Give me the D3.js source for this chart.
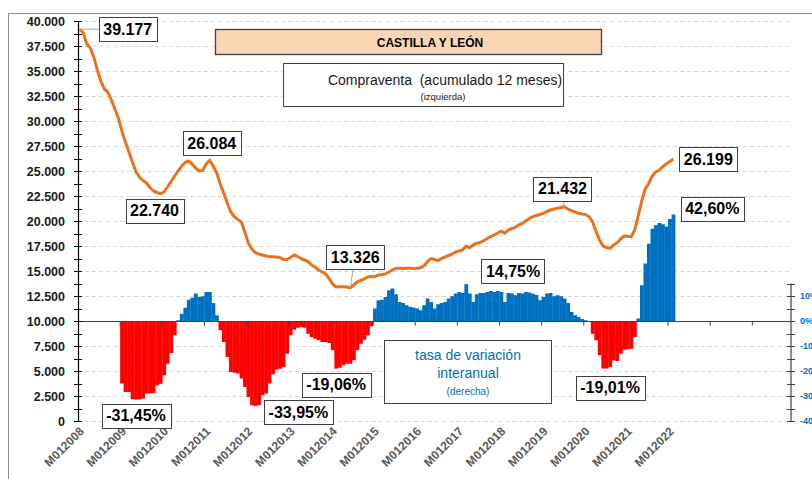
<!DOCTYPE html>
<html>
<head>
<meta charset="utf-8">
<script src="https://cdn.jsdelivr.net/npm/d3@7"></script>
<style>
  body { margin: 0; background: #fff; }
  svg { display: block; font-family: "Liberation Sans", Arial, sans-serif; }
</style>
</head>
<body>
<div id="chart"></div>
<script>
// Compraventa de viviendas, acumulado 12 meses (eje izquierdo), M012008 .. M022022
const compraventa = [
  39177, 38830, 37700, 37300, 36400, 35100, 34000, 33200, 32900, 32100, 31200, 30300,
  29000, 27900, 26900, 25900, 24930, 24400, 24050, 23800, 23350, 23000, 22850, 22740,
  22900, 23400, 23930, 24500, 25000, 25500, 25850, 26000, 25700, 25300, 25000, 25050,
  25700, 26084, 25500, 24800, 23700, 22800, 21800, 20900, 20430, 20150, 19900, 18900,
  17800, 17200, 16830, 16700, 16600, 16500, 16450, 16430, 16400, 16350, 16150, 16150,
  16350, 16600, 16450, 16250, 16100, 15950, 15600, 15400, 15100, 14900, 14700, 14250,
  13700, 13400, 13420, 13430, 13400, 13326, 13600, 13900, 14050, 14200, 14400, 14450,
  14430, 14600, 14650, 14700, 14900, 15100, 15270, 15270, 15250, 15280, 15270, 15260,
  15280, 15330, 15500, 15930, 16250, 16150, 16030, 16250, 16400, 16550, 16700, 16900,
  17000, 17100, 17500, 17330, 17600, 17750, 17850, 18030, 18250, 18430, 18600, 18800,
  19000, 18770, 19100, 19250, 19370, 19600, 19750, 20000, 20250, 20430, 20550, 20650,
  20770, 20950, 21100, 21200, 21270, 21350, 21432, 21200, 21030, 20900, 20770, 20700,
  20650, 20430, 19930, 18930, 18100, 17500, 17350, 17270, 17600, 17830, 18200, 18500,
  18480, 18430, 19100, 20500, 22000, 23200, 23770, 24500, 24900, 25100, 25430, 25700,
  25950, 26199
];

// tasa de variacion interanual, % (eje derecho)
const tasaVariacion = [
  null, null, null, null, null, null, null, null, null, null, null, null,
  -25.0, -28.4, -28.4, -31.3, -31.45, -31.4, -31.0, -29.0, -29.0, -28.8, -25.7, -25.1,
  -21.7, -17.1, -12.8, -5.7, 0.3, 2.9, 5.3, 8.5, 9.3, 11.0, 9.6, 9.9,
  11.6, 11.6, 7.2, 2.3, -3.7, -8.4, -14.4, -20.4, -20.7, -21.0, -23.0, -26.4,
  -30.4, -33.7, -33.95, -33.7, -29.7, -29.0, -25.0, -21.3, -19.4, -19.1, -18.4, -13.1,
  -5.7, -3.5, -2.7, -2.4, -2.7, -5.1, -6.4, -7.1, -7.7, -8.4, -8.4, -8.8,
  -11.7, -19.06, -18.7, -17.7, -17.1, -17.1, -15.7, -11.7, -9.1, -7.5, -5.7, -2.1,
  5.0, 8.3, 8.5, 9.6, 12.3, 13.0, 10.7, 7.6, 7.2, 6.3, 5.7, 5.4,
  5.0, 4.3, 6.3, 9.0, 7.6, 5.0, 6.7, 7.2, 7.6, 9.0, 9.9, 11.0,
  11.6, 11.2, 14.75, 11.0, 7.6, 10.7, 11.2, 11.2, 11.6, 12.0, 11.6, 12.0,
  11.6, 7.6, 11.2, 11.0, 10.3, 11.2, 11.0, 11.6, 11.4, 10.9, 10.4, 8.3,
  9.6, 11.0, 11.2, 9.9, 10.3, 9.9, 9.0, 7.2, 3.6, 2.3, 1.6, 0.8,
  0.3, -0.4, -5.1, -7.7, -13.7, -19.01, -19.0, -18.4, -15.7, -16.0, -13.1, -11.5,
  -11.3, -11.1, -6.4, 1.0, 14.3, 23.0, 30.9, 36.9, 38.3, 39.2, 38.7, 37.8,
  40.8, 42.6
];

const yearLabels = ["M012008", "M012009", "M012010", "M012011", "M012012", "M012013", "M012014",
  "M012015", "M012016", "M012017", "M012018", "M012019", "M012020", "M012021", "M012022"];
const leftTicks = d3.range(0, 40001, 2500);
const rightTicks = [10, 0, -10, -20, -30, -40];

// point labels: index into the series, text, offset of the box centre
const lineLabels = [
  { i: 0, text: "39.177", dx: 48, dy: 0, leader: true },
  { i: 23, text: "22.740", dx: -6, dy: 17 },
  { i: 37, text: "26.084", dx: 2, dy: -17 },
  { i: 77, text: "13.326", dx: 5, dy: -31, leader: true },
  { i: 138, text: "21.432", dx: -2, dy: -18, leader: true },
  { i: 169, text: "26.199", dx: 35, dy: 0 }
];
const barLabels = [
  { i: 16, text: "-31,45%", dx: 0, dy: 16 },
  { i: 50, text: "-33,95%", dx: 43, dy: 6 },
  { i: 73, text: "-19,06%", dx: 0, dy: 16 },
  { i: 110, text: "14,75%", dx: 47, dy: -13 },
  { i: 149, text: "-19,01%", dx: 7, dy: 19 },
  { i: 169, text: "42,60%", dx: 39, dy: -6 }
];

const W = 812, H = 479;
const nCategories = 203;
const plot = { left: 78, right: 791, top: 21, bottom: 421 };

const svg = d3.select("#chart").append("svg")
  .attr("width", W).attr("height", H);

// chart frame
svg.append("rect")
  .attr("x", 8.5).attr("y", 13.5)
  .attr("width", 900).attr("height", 600)
  .attr("fill", "none").attr("stroke", "#8c8c8c").attr("stroke-width", 1);

const x = d3.scaleLinear().domain([0, nCategories]).range([plot.left, plot.right]);
const yL = d3.scaleLinear().domain([0, 40000]).range([plot.bottom, plot.top]);
const yR = d3.scaleLinear().domain([-40, 120]).range([plot.bottom, plot.top]);

const es = d3.formatLocale({ decimal: ",", thousands: ".", grouping: [3], currency: ["", "€"] });
const fmtThousands = es.format(",.0f");

// gridlines
svg.append("g").selectAll("line")
  .data(leftTicks.filter(d => d !== 10000))
  .join("line")
  .attr("x1", plot.left).attr("x2", plot.right)
  .attr("y1", d => Math.round(yL(d)) + 0.5).attr("y2", d => Math.round(yL(d)) + 0.5)
  .attr("stroke", "#d9d9d9").attr("stroke-dasharray", "4,3");

// bars (tasa de variacion)
const bars = tasaVariacion.map((v, i) => ({ i, v })).filter(d => d.v !== null);
svg.append("g").selectAll("rect")
  .data(bars)
  .join("rect")
  .attr("x", d => x(d.i))
  .attr("width", d => x(d.i + 1) - x(d.i) + 0.3)
  .attr("y", d => Math.min(yR(0), yR(d.v)))
  .attr("height", d => Math.abs(yR(d.v) - yR(0)))
  .attr("fill", d => d.v >= 0 ? "#0070c0" : "#ff0000");

// category axis on the 0% / 10.000 line
const zeroY = Math.round(yR(0)) + 0.5;
svg.append("line")
  .attr("x1", plot.left).attr("x2", plot.right)
  .attr("y1", zeroY).attr("y2", zeroY)
  .attr("stroke", "#404040").attr("stroke-width", 1.2);
svg.append("g").selectAll("line")
  .data(d3.range(12, nCategories, 12))
  .join("line")
  .attr("x1", d => x(d)).attr("x2", d => x(d))
  .attr("y1", zeroY).attr("y2", zeroY + 4)
  .attr("stroke", "#404040");

// line (compraventa)
const line = d3.line()
  .x((d, i) => x(i + 0.5))
  .y(d => yL(d));
svg.append("path")
  .datum(compraventa)
  .attr("d", line)
  .attr("fill", "none")
  .attr("stroke", "#e8731c")
  .attr("stroke-width", 3)
  .attr("stroke-linejoin", "round");

// left axis
const gLeft = svg.append("g").attr("transform", `translate(${plot.left},0)`);
gLeft.call(d3.axisLeft(yL).tickValues(leftTicks).tickFormat(fmtThousands).tickSize(0).tickPadding(13));
gLeft.select(".domain").attr("stroke", "#000").attr("stroke-width", 1.2);
gLeft.selectAll("text")
  .attr("font-size", 12.5).attr("font-weight", "bold").attr("fill", "#1a1a1a")
  .attr("font-family", "Liberation Sans, Arial, sans-serif");
gLeft.selectAll(".tickmark")
  .data(d3.range(0, 40001, 1250))
  .join("line")
  .attr("class", "tickmark")
  .attr("x1", -4).attr("x2", 4)
  .attr("y1", d => Math.round(yL(d)) + 0.5).attr("y2", d => Math.round(yL(d)) + 0.5)
  .attr("stroke", "#000");

// right axis (only lower part shown)
const gRight = svg.append("g").attr("transform", `translate(${plot.right},0)`);
gRight.append("line")
  .attr("x1", 0).attr("x2", 0)
  .attr("y1", yR(15)).attr("y2", yR(-40))
  .attr("stroke", "#404040").attr("stroke-width", 1.2);
gRight.selectAll(".tickmark")
  .data(d3.range(-40, 16, 5))
  .join("line")
  .attr("class", "tickmark")
  .attr("x1", -4).attr("x2", 4)
  .attr("y1", d => Math.round(yR(d)) + 0.5).attr("y2", d => Math.round(yR(d)) + 0.5)
  .attr("stroke", "#404040");
gRight.selectAll("text")
  .data(rightTicks)
  .join("text")
  .attr("x", 9).attr("y", d => yR(d))
  .attr("dy", "0.35em")
  .attr("font-size", 9).attr("font-weight", "bold").attr("fill", "#0070c0")
  .text(d => d + "%");

// x labels
svg.append("g").selectAll("text")
  .data(yearLabels)
  .join("text")
  .attr("transform", (d, k) => `translate(${x(k * 12 + 0.5) + 5},${432}) rotate(-45)`)
  .attr("text-anchor", "end")
  .attr("font-size", 12).attr("font-weight", "bold").attr("fill", "#595959")
  .text(d => d);

// data labels
function addLabel(cx, cy, text) {
  const g = svg.append("g");
  const t = g.append("text")
    .attr("x", cx).attr("y", cy).attr("dy", "0.36em")
    .attr("text-anchor", "middle")
    .attr("font-size", 16).attr("font-weight", "bold").attr("fill", "#000")
    .text(text);
  const w = t.node().getComputedTextLength() + 9;
  g.insert("rect", "text")
    .attr("x", Math.round(cx - w / 2) + 0.5).attr("y", Math.round(cy - 12) + 0.5)
    .attr("width", Math.round(w)).attr("height", 24)
    .attr("fill", "#fff").attr("stroke", "#404040").attr("stroke-width", 1);
}

lineLabels.forEach(d => {
  const px = x(d.i + 0.5), py = yL(compraventa[d.i]);
  const cx = px + d.dx, cy = py + d.dy;
  if (d.leader) {
    let lx, ly;
    if (Math.abs(d.dx) > Math.abs(d.dy)) { lx = cx - 29; ly = cy; } else { lx = cx - d.dx * 0.4; ly = cy + (d.dy < 0 ? 12 : -12); }
    svg.append("line")
      .attr("x1", px).attr("y1", py).attr("x2", lx).attr("y2", ly)
      .attr("stroke", "#a6a6a6").attr("stroke-width", 1);
  }
  addLabel(cx, cy, d.text);
});
barLabels.forEach(d => {
  const px = x(d.i + 0.5), py = yR(tasaVariacion[d.i]);
  addLabel(px + d.dx, py + d.dy, d.text);
});

// title box
svg.append("rect")
  .attr("x", 215.5).attr("y", 29.5).attr("width", 386).attr("height", 25)
  .attr("fill", "#fcd5b4").attr("stroke", "#404040").attr("stroke-width", 1.3);
svg.append("text")
  .attr("x", 430).attr("y", 47)
  .attr("text-anchor", "middle")
  .attr("font-size", 12).attr("font-weight", "bold").attr("fill", "#000")
  .text("CASTILLA Y LEÓN");

// legend left series
svg.append("rect")
  .attr("x", 283.5).attr("y", 63.5).attr("width", 280).attr("height", 43)
  .attr("fill", "#fff").attr("stroke", "#404040").attr("stroke-width", 1);
svg.append("text")
  .attr("x", 445).attr("y", 85)
  .attr("text-anchor", "middle")
  .attr("font-size", 14).attr("fill", "#1a1a1a")
  .attr("xml:space", "preserve")
  .text("Compraventa  (acumulado 12 meses)");
svg.append("text")
  .attr("x", 443).attr("y", 100)
  .attr("text-anchor", "middle")
  .attr("font-size", 9.5).attr("fill", "#1a1a1a")
  .text("(izquierda)");

// legend right series
svg.append("rect")
  .attr("x", 384.5).attr("y", 340.5).attr("width", 167).attr("height", 63)
  .attr("fill", "#fff").attr("stroke", "#404040").attr("stroke-width", 1);
svg.append("text")
  .attr("x", 468).attr("y", 360)
  .attr("text-anchor", "middle")
  .attr("font-size", 14).attr("fill", "#0070c0")
  .text("tasa de variación");
svg.append("text")
  .attr("x", 468).attr("y", 378)
  .attr("text-anchor", "middle")
  .attr("font-size", 14).attr("fill", "#0070c0")
  .text("interanual");
svg.append("text")
  .attr("x", 468).attr("y", 395)
  .attr("text-anchor", "middle")
  .attr("font-size", 10).attr("fill", "#0070c0")
  .text("(derecha)");
</script>
</body>
</html>
